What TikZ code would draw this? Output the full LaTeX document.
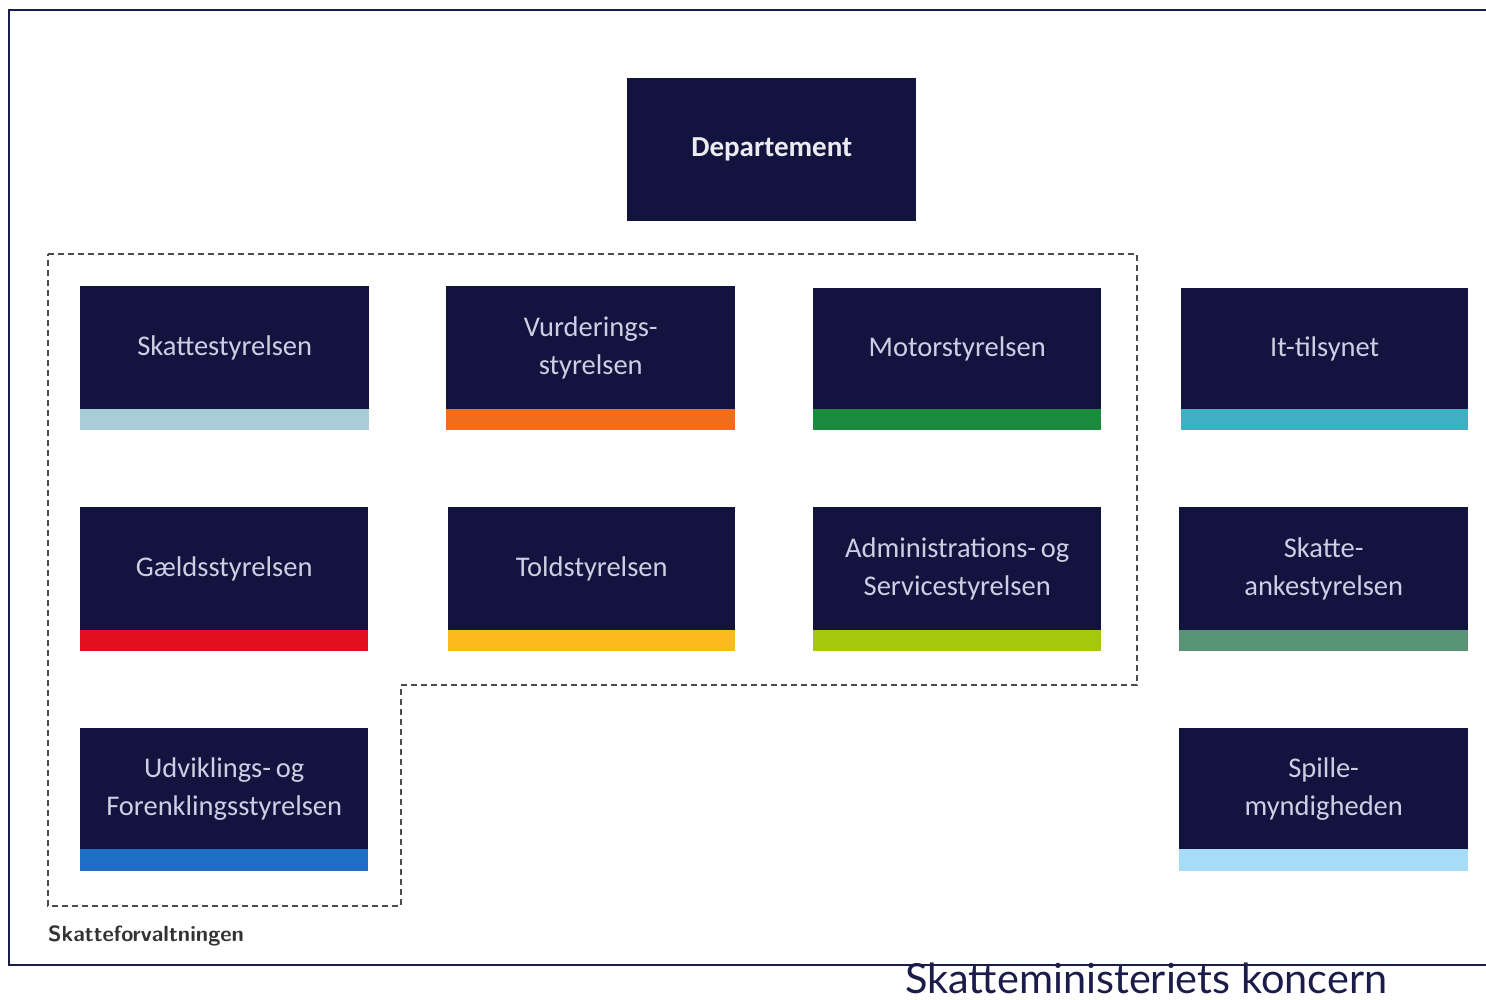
\documentclass[tikz,border=0pt]{standalone}
\usepackage{fontspec}
\setmainfont{Carlito}
\newfontfamily\capfont{Lato}
\definecolor{navy}{HTML}{13133F}
\definecolor{frame}{HTML}{1C1C4A}
\definecolor{boxtext}{HTML}{CDCDE3}
\definecolor{cSkat}{HTML}{A9CDD8}
\definecolor{cVur}{HTML}{F26C1D}
\definecolor{cMot}{HTML}{1A8A3C}
\definecolor{cIt}{HTML}{3FB0C4}
\definecolor{cGld}{HTML}{E2101E}
\definecolor{cTold}{HTML}{FCBA1C}
\definecolor{cAdm}{HTML}{A5C80E}
\definecolor{cAnk}{HTML}{5A9477}
\definecolor{cUdv}{HTML}{1F6EC5}
\definecolor{cSpil}{HTML}{A5DCF7}
\tikzset{
  unitbox/.style={fill=navy, inner sep=0pt, text=boxtext, align=center,
    font=\fontsize{28.5}{38}\selectfont},
  deptbox/.style={fill=navy, inner sep=0pt, text=white!92!navy, align=center,
    font=\fontsize{29}{32}\selectfont\bfseries},
  groupline/.style={draw=black!70, line width=1.6pt, dash pattern=on 6pt off 4pt},
  framelines/.style={draw=frame, line width=2.8pt},
}
\newcommand\orgunit[8]{%
  \node[unitbox, anchor=north west, minimum width={(#4-#2)*1pt},
        minimum height={(#5-#3)*1pt}] (#1) at (#2,#3) {#8};
  \fill[#7] (#1.south west) rectangle (#4,#6);
}
\begin{document}
\begin{tikzpicture}[x=1pt,y=-1pt]
\useasboundingbox[fill=white] (0,0) rectangle (1486,999);
% frame
\draw[framelines] (1486,10) -- (9,10) -- (9,965) -- (1486,965);
% department
\node[deptbox, anchor=north west, minimum width=289pt, minimum height=143pt]
  (dep) at (627,78) {Departement};
% group outline
\draw[groupline] (48,254) -- (1137,254) -- (1137,685) -- (401,685)
  -- (401,906) -- (48,906) -- cycle;
\node[anchor=base west, inner sep=0pt, text=black!80,
  font=\sffamily\fontsize{22}{24}\selectfont\bfseries] (grp) at (48,941) {Skatteforvaltningen};
% row 1
\orgunit{skat}{80}{286}{369}{409}{430}{cSkat}{Skattestyrelsen}
\orgunit{vur}{446}{286}{735}{409}{430}{cVur}{Vurderings-\\styrelsen}
\orgunit{mot}{813}{288}{1101}{409}{430}{cMot}{Motorstyrelsen}
\orgunit{it}{1181}{288}{1468}{409}{430}{cIt}{It-tilsynet}
% row 2
\orgunit{gld}{80}{507}{368}{630}{651}{cGld}{Gældsstyrelsen}
\orgunit{told}{448}{507}{735}{630}{651}{cTold}{Toldstyrelsen}
\orgunit{adm}{813}{507}{1101}{630}{651}{cAdm}{Administrations-\,og\\Servicestyrelsen}
\orgunit{ank}{1179}{507}{1468}{630}{651}{cAnk}{Skatte-\\ankestyrelsen}
% row 3
\orgunit{udv}{80}{728}{368}{849}{871}{cUdv}{Udviklings-\,og\\Forenklingsstyrelsen}
\orgunit{spil}{1179}{728}{1468}{849}{871}{cSpil}{Spille-\\myndigheden}
% caption
\node[anchor=base west, inner sep=0pt, text=frame,
  font=\capfont\fontsize{41.5}{44}\selectfont] (cap) at (905,993) {Skatteministeriets koncern};
\end{tikzpicture}
\end{document}
